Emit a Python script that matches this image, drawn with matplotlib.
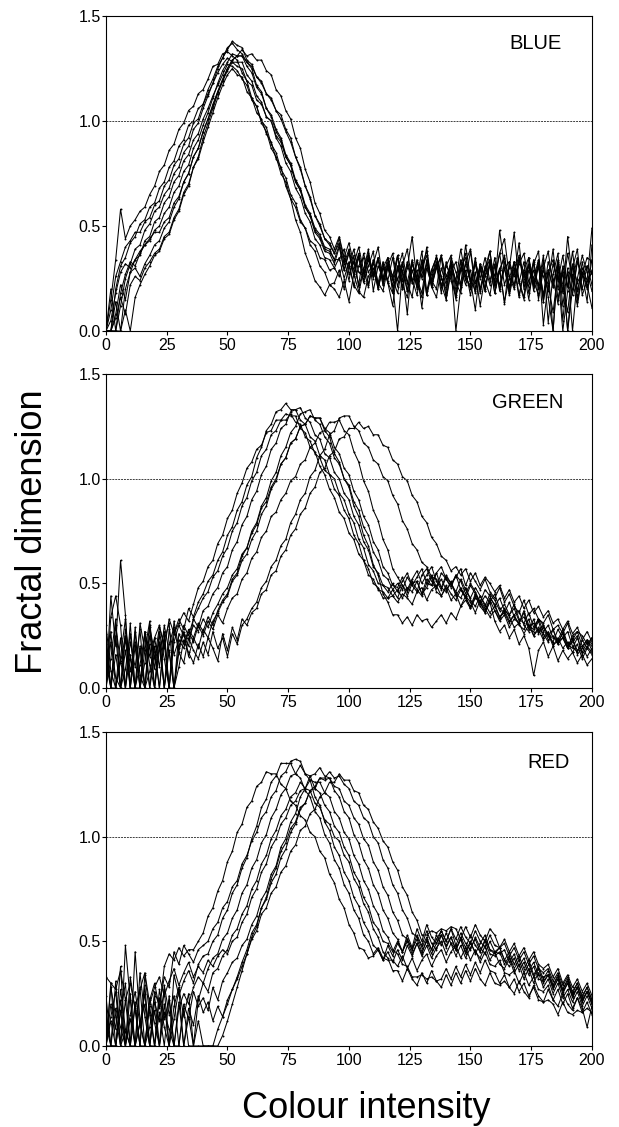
import numpy as np
import matplotlib
matplotlib.use("Agg")
import matplotlib.pyplot as plt
from matplotlib.ticker import FormatStrFormatter

plt.rcParams['font.family'] = ['Liberation Sans', 'DejaVu Sans']

# colour intensity levels (every second level)
intensity = np.arange(0, 201, 2)

# fractal dimension x100, sampled at every second intensity level from 0
blue_01 = [
    0, 15, 34, 58, 44, 50, 53, 57, 59, 65,
    69, 76, 79, 86, 89, 96, 99, 105, 107, 113,
    115, 120, 126, 127, 132, 133, 131, 129, 123,
    119, 111, 107, 99, 95, 87, 83, 75, 71, 63,
    59, 52, 49, 43, 41, 35, 34, 29, 30, 26,
    34, 24, 36, 21, 29, 39, 19, 31, 25, 35,
    18, 29, 37, 23, 16, 33, 26, 40, 21, 30,
    36, 15, 28, 33, 22, 41, 25, 19, 32, 26,
    38, 22, 30, 13, 33, 26, 42, 20, 31, 24,
    17, 34, 4, 27, 37, 12, 30, 0, 25, 36,
    28, 19]
blue_02 = [
    0, 0, 20, 31, 35, 42, 45, 51, 53, 59,
    61, 68, 71, 78, 81, 88, 91, 98, 100, 106,
    108, 115, 120, 126, 130, 135, 137, 134, 132,
    128, 125, 117, 114, 106, 103, 96, 92, 84, 80,
    72, 68, 60, 56, 49, 46, 40, 39, 34, 34,
    39, 27, 33, 22, 37, 28, 32, 40, 24, 31,
    21, 35, 28, 8, 33, 25, 38, 19, 29, 35,
    26, 17, 35, 28, 21, 33, 39, 23, 30, 19,
    32, 24, 37, 44, 26, 20, 34, 28, 15, 32,
    38, 14, 29, 0, 33, 22, 9, 30, 39, 17,
    24, 28]
blue_03 = [
    0, 10, 26, 33, 40, 43, 47, 47, 52, 54,
    60, 62, 69, 72, 79, 82, 89, 92, 99, 101,
    108, 113, 118, 123, 127, 130, 128, 126,
    125, 119, 117, 110, 108, 102, 100, 93, 90, 83,
    79, 71, 67, 59, 55, 47, 44, 38, 37, 32,
    40, 29, 37, 26, 35, 23, 31, 38, 21, 30,
    35, 25, 18, 31, 39, 23, 29, 11, 33, 24,
    20, 36, 26, 32, 16, 29, 37, 23, 33, 19,
    30, 38, 21, 29, 35, 17, 28, 36, 22, 32,
    25, 34, 3, 23, 39, 15, 28, 0, 20, 33,
    27, 14, 41]
blue_04 = [
    0, 0, 0, 12, 25, 32, 39, 41, 48, 51,
    57, 59, 65, 68, 75, 78, 85, 88, 96, 99,
    106, 112, 118, 125, 130, 134, 138, 136,
    135, 129, 127, 121, 119, 113, 111, 105, 103, 96,
    92, 83, 78, 69, 64, 55, 51, 44, 42, 37,
    42, 32, 39, 29, 37, 27, 35, 25, 34, 22,
    32, 24, 36, 20, 30, 45, 23, 33, 17, 29,
    35, 21, 31, 27, 15, 33, 24, 38, 20, 31,
    19, 34, 26, 37, 22, 30, 47, 23, 33, 18,
    29, 22, 36, 16, 0, 31, 19, 37, 24, 12,
    27, 35, 33]
blue_05 = [
    0, 0, 8, 22, 15, 28, 34, 36, 43, 45,
    52, 54, 61, 64, 71, 74, 81, 84, 91, 94,
    101, 106, 112, 117, 122, 127, 126, 124, 120,
    117, 110, 107, 100, 97, 89, 85, 77, 73, 65,
    61, 53, 49, 41, 38, 31, 28, 22, 20, 16,
    24, 14, 27, 19, 16, 26, 30, 20, 32, 23,
    18, 31, 22, 16, 29, 21, 34, 17, 27, 32,
    22, 15, 30, 0, 21, 29, 17, 28, 12, 26,
    31, 18, 29, 14, 25, 33, 17, 28, 21, 34,
    15, 29, 22, 9, 28, 0, 19, 32, 14, 27,
    22, 11]
blue_06 = [
    0, 20, 0, 18, 27, 33, 31, 37, 41, 43,
    48, 50, 56, 59, 66, 69, 76, 79, 87, 91,
    98, 104, 111, 118, 124, 128, 132, 131,
    131, 126, 123, 116, 113, 106, 102, 95, 91, 83,
    79, 71, 67, 59, 55, 48, 45, 39, 38, 34,
    41, 29, 38, 27, 36, 24, 34, 26, 35, 22,
    31, 37, 24, 33, 19, 32, 25, 18, 34, 24,
    36, 25, 20, 32, 24, 39, 26, 21, 35, 18,
    29, 34, 22, 48, 30, 19, 33, 24, 16, 35,
    23, 32, 17, 33, 25, 13, 31, 21, 38, 19,
    30, 24, 49]
blue_07 = [
    0, 0, 14, 0, 20, 28, 30, 26, 32, 36,
    41, 43, 49, 52, 59, 63, 71, 75, 83, 87,
    95, 101, 107, 114, 119, 124, 128, 128,
    128, 122, 119, 112, 109, 102, 100, 92, 88, 80,
    76, 68, 64, 56, 52, 44, 41, 35, 34, 30,
    35, 25, 33, 21, 31, 35, 22, 34, 20, 30,
    23, 12, 31, 20, 33, 25, 17, 30, 36, 21,
    16, 30, 22, 33, 23, 18, 32, 24, 10, 30,
    20, 33, 18, 29, 36, 21, 30, 16, 29, 35,
    19, 31, 14, 29, 21, 34, 5, 28, 17, 33,
    26, 31, 22]
blue_08 = [
    0, 0, 0, 0, 10, 0, 16, 22, 27, 31,
    36, 38, 44, 46, 53, 57, 65, 69, 78, 83,
    92, 99, 106, 113, 119, 125, 129, 131,
    131, 128, 126, 121, 118, 113, 110, 105, 101, 95,
    90, 83, 77, 69, 63, 55, 50, 44, 41, 37,
    44, 34, 31, 39, 28, 26, 36, 28, 23, 33,
    24, 35, 21, 32, 23, 34, 20, 31, 38, 23,
    33, 21, 31, 36, 19, 30, 35, 23, 32, 20,
    31, 22, 35, 19, 30, 33, 21, 32, 37, 23,
    33, 20, 30, 38, 21, 32, 18, 45, 24, 35,
    20, 31, 27]
blue_09 = [
    0, 0, 6, 16, 8, 22, 26, 24, 30, 33,
    37, 39, 45, 47, 54, 58, 66, 70, 78, 82,
    90, 97, 104, 111, 117, 122, 125, 122,
    121, 114, 111, 104, 101, 94, 90, 82, 78, 69,
    63, 53, 47, 37, 31, 24, 21, 17, 22, 23,
    29, 20, 31, 22, 18, 29, 21, 33, 23, 19,
    30, 22, 0, 29, 19, 33, 23, 16, 30, 22,
    31, 18, 33, 24, 17, 30, 22, 29, 18, 32,
    24, 17, 31, 22, 30, 18, 33, 23, 15, 29,
    22, 31, 17, 28, 34, 20, 30, 0, 27, 16,
    33, 21, 29]
blue_10 = [
    0, 5, 18, 28, 32, 30, 34, 38, 41, 44,
    47, 47, 52, 54, 61, 64, 71, 75, 83, 87,
    95, 101, 108, 114, 120, 125, 129, 131,
    134, 131, 132, 129, 129, 124, 122, 115, 112, 105,
    101, 92, 87, 77, 71, 61, 56, 48, 45, 39,
    45, 35, 42, 32, 40, 29, 37, 27, 35, 25,
    33, 26, 36, 24, 32, 23, 34, 25, 32, 21,
    31, 35, 24, 32, 22, 34, 26, 20, 33, 25,
    35, 24, 32, 20, 33, 26, 22, 35, 25, 31,
    21, 33, 26, 19, 32, 24, 36, 21, 31, 23,
    28, 20, 34]

green_01 = [
    18, 0, 30, 12, 25, 8, 22, 0, 27, 15,
    24, 30, 19, 33, 26, 31, 36, 32, 40, 48,
    51, 58, 61, 69, 73, 81, 85, 93, 98, 105,
    108, 114, 116, 122, 123, 128, 128, 131, 130, 130,
    124, 122, 115, 113, 106, 102, 95, 91, 84, 81,
    74, 71, 64, 61, 54, 52, 47, 46, 43, 47,
    43, 49, 44, 50, 51, 45, 48, 53, 46, 44,
    49, 45, 42, 47, 44, 38, 43, 41, 36, 42,
    37, 33, 38, 34, 29, 31, 36, 28, 27, 32,
    24, 27, 21, 22, 26, 19, 23, 18, 20, 15,
    19]
green_02 = [
    0, 34, 44, 30, 0, 22, 10, 28, 0, 25,
    14, 29, 21, 0, 26, 33, 28, 38, 34, 41,
    45, 51, 54, 61, 65, 73, 77, 85, 89, 97,
    101, 110, 115, 123, 126, 132, 133, 136, 133, 133,
    128, 126, 120, 118, 111, 109, 102, 100, 93, 90,
    83, 79, 71, 67, 59, 56, 50, 49, 46, 50,
    46, 51, 55, 49, 53, 57, 50, 49, 55, 58,
    52, 48, 54, 51, 45, 50, 46, 41, 47, 44,
    39, 43, 37, 35, 40, 33, 31, 36, 29, 33,
    27, 30, 24, 23, 28, 21, 19, 24, 17, 22,
    20]
green_03 = [
    26, 0, 0, 15, 33, 0, 20, 0, 12, 30,
    0, 18, 27, 0, 22, 30, 25, 20, 33, 29,
    37, 39, 45, 48, 55, 58, 66, 70, 78, 82,
    90, 94, 102, 106, 114, 117, 124, 126, 132, 133,
    134, 129, 127, 121, 119, 112, 110, 103, 100, 93,
    90, 82, 78, 70, 66, 58, 55, 49, 48, 44,
    47, 43, 48, 46, 51, 45, 52, 49, 55, 48,
    46, 51, 44, 48, 43, 39, 45, 41, 37, 43,
    40, 34, 36, 31, 35, 37, 30, 27, 33, 26,
    29, 23, 25, 21, 27, 20, 24, 16, 19, 23,
    18]
green_04 = [
    0, 22, 5, 0, 28, 14, 0, 31, 18, 0,
    24, 10, 30, 17, 0, 26, 21, 28, 24, 31,
    27, 34, 30, 37, 42, 45, 52, 55, 63, 67,
    75, 79, 87, 91, 99, 103, 111, 115, 122, 125,
    131, 132, 133, 128, 126, 120, 117, 110, 107, 100,
    97, 89, 85, 77, 73, 65, 61, 54, 52, 47,
    50, 47, 53, 49, 46, 54, 57, 51, 48, 55,
    52, 49, 54, 47, 43, 49, 45, 40, 44, 41,
    45, 38, 36, 41, 34, 31, 37, 30, 28, 33,
    30, 25, 22, 28, 24, 19, 25, 27, 20, 23,
    21]
green_05 = [
    12, 0, 25, 0, 18, 0, 29, 6, 0, 21,
    0, 27, 14, 0, 32, 19, 26, 23, 30, 27,
    33, 29, 36, 40, 45, 48, 54, 57, 64, 67,
    74, 78, 86, 89, 96, 100, 107, 110, 117, 119,
    125, 126, 130, 129, 129, 124, 122, 115, 112, 105,
    102, 94, 90, 82, 78, 70, 66, 58, 55, 49,
    48, 53, 47, 52, 56, 50, 54, 58, 51, 47,
    53, 50, 46, 52, 47, 43, 48, 44, 39, 45,
    42, 37, 40, 35, 38, 32, 34, 29, 31, 27,
    30, 25, 28, 22, 24, 27, 20, 17, 23, 19,
    24]
green_06 = [
    30, 8, 0, 24, 0, 16, 0, 0, 27, 11,
    0, 21, 0, 28, 16, 23, 19, 27, 22, 30,
    25, 32, 28, 35, 31, 38, 43, 45, 52, 55,
    62, 65, 72, 75, 82, 84, 90, 93, 99, 101,
    107, 109, 115, 117, 122, 123, 127, 127, 128, 123,
    121, 113, 108, 99, 94, 85, 80, 71, 66, 57,
    53, 49, 46, 51, 47, 44, 50, 54, 48, 52,
    47, 50, 45, 43, 48, 42, 39, 44, 40, 36,
    39, 34, 37, 32, 35, 30, 28, 33, 25, 29,
    26, 22, 28, 21, 24, 19, 22, 25, 16, 20,
    17]
green_07 = [
    0, 27, 0, 13, 0, 31, 0, 19, 0, 8,
    20, 0, 25, 0, 0, 17, 12, 24, 18, 14,
    22, 16, 27, 19, 24, 15, 26, 21, 30, 33,
    38, 41, 48, 51, 58, 61, 68, 71, 79, 83,
    90, 93, 101, 104, 111, 114, 121, 123, 129, 130,
    130, 125, 123, 117, 115, 109, 107, 101, 99, 92,
    88, 80, 76, 69, 66, 60, 58, 53, 52, 48,
    54, 50, 53, 57, 49, 55, 51, 47, 52, 46,
    43, 48, 41, 45, 39, 36, 42, 35, 38, 33,
    31, 35, 28, 30, 26, 31, 23, 27, 25, 21,
    24]
green_08 = [
    21, 0, 16, 0, 24, 0, 0, 11, 26, 0,
    15, 22, 0, 18, 0, 10, 23, 17, 12, 21,
    15, 24, 19, 13, 26, 18, 29, 23, 33, 30,
    36, 38, 45, 47, 54, 56, 63, 66, 73, 76,
    83, 86, 93, 96, 103, 105, 111, 113, 119, 120,
    124, 124, 127, 124, 125, 121, 121, 116, 115, 109,
    107, 101, 99, 92, 89, 82, 79, 72, 69, 63,
    61, 56, 58, 54, 57, 51, 55, 49, 53, 50,
    46, 49, 43, 47, 41, 44, 38, 42, 36, 39,
    34, 37, 31, 33, 28, 32, 26, 29, 23, 27,
    22]
green_09 = [
    0, 14, 33, 0, 9, 26, 0, 20, 0, 29,
    17, 0, 23, 31, 0, 20, 27, 15, 24, 19,
    28, 24, 32, 36, 41, 44, 51, 54, 61, 64,
    71, 75, 83, 87, 95, 99, 107, 110, 117, 119,
    125, 126, 130, 129, 129, 123, 120, 112, 108, 100,
    96, 87, 82, 73, 68, 59, 54, 45, 41, 35,
    35, 31, 34, 30, 35, 32, 33, 29, 32, 35,
    31, 36, 33, 39, 42, 38, 44, 39, 36, 41,
    32, 27, 30, 24, 28, 21, 25, 19, 6, 18,
    22, 15, 20, 13, 18, 14, 17, 12, 16, 11,
    14]
green_10 = [
    0, 44, 20, 61, 35, 0, 27, 0, 18, 32,
    9, 26, 0, 21, 29, 17, 30, 25, 33, 38,
    43, 46, 53, 56, 63, 67, 75, 79, 87, 91,
    99, 103, 111, 114, 121, 123, 128, 128, 131, 127,
    126, 120, 118, 112, 110, 104, 102, 95, 92, 85,
    81, 73, 69, 61, 57, 50, 48, 43, 43, 44,
    41, 45, 43, 40, 46, 48, 42, 47, 49, 44,
    48, 42, 45, 39, 44, 41, 36, 42, 38, 34,
    37, 32, 35, 29, 33, 31, 26, 30, 25, 28,
    23, 26, 20, 24, 19, 22, 17, 21, 14, 19,
    16]

red_01 = [
    0, 20, 8, 38, 0, 15, 26, 10, 0, 22,
    30, 18, 38, 44, 41, 47, 43, 46, 46, 50,
    54, 62, 66, 74, 79, 88, 93, 102, 106, 114,
    117, 124, 126, 131, 130, 130, 125, 123, 117, 115,
    110, 108, 102, 100, 93, 90, 82, 78, 70, 66,
    58, 54, 47, 46, 42, 43, 46, 41, 48, 43,
    49, 45, 51, 46, 53, 48, 55, 49, 46, 53,
    48, 52, 46, 51, 44, 49, 45, 42, 48, 41,
    45, 39, 37, 42, 35, 39, 32, 37, 30, 35,
    28, 32, 25, 30, 23, 27, 21, 26, 19, 24,
    18]
red_02 = [
    10, 0, 31, 0, 48, 22, 0, 35, 14, 0,
    26, 19, 33, 28, 45, 39, 48, 44, 40, 46,
    48, 50, 56, 59, 66, 69, 76, 79, 87, 91,
    98, 102, 109, 112, 119, 122, 129, 131, 136, 137,
    136, 130, 127, 119, 115, 107, 103, 95, 91, 83,
    79, 71, 67, 59, 55, 48, 46, 41, 45, 40,
    46, 41, 48, 43, 49, 44, 51, 46, 53, 48,
    54, 49, 46, 52, 47, 53, 48, 45, 51, 46,
    44, 47, 41, 38, 42, 36, 40, 34, 38, 32,
    31, 34, 27, 32, 25, 30, 23, 28, 21, 26,
    20]
red_03 = [
    0, 0, 18, 9, 0, 33, 17, 0, 29, 0,
    21, 12, 27, 0, 34, 24, 31, 36, 30, 39,
    43, 44, 50, 53, 61, 65, 73, 77, 85, 90,
    99, 105, 114, 118, 126, 129, 135, 135, 135, 130,
    128, 122, 119, 112, 109, 101, 97, 89, 85, 77,
    73, 65, 61, 53, 50, 44, 47, 42, 41, 41,
    38, 43, 37, 42, 36, 41, 44, 38, 43, 46,
    40, 45, 48, 42, 47, 41, 46, 40, 45, 39,
    38, 41, 35, 34, 36, 30, 35, 29, 33, 27,
    26, 29, 22, 27, 20, 25, 18, 23, 16, 21,
    15]
red_04 = [
    24, 0, 0, 16, 30, 0, 45, 12, 0, 19,
    0, 27, 13, 22, 0, 18, 25, 20, 28, 33,
    30, 37, 42, 44, 51, 54, 61, 65, 73, 77,
    85, 89, 97, 101, 109, 113, 120, 123, 129, 130,
    134, 130, 129, 123, 121, 115, 112, 105, 102, 95,
    91, 83, 79, 71, 67, 59, 56, 50, 49, 45,
    50, 45, 53, 47, 56, 50, 58, 52, 49, 55,
    50, 56, 48, 54, 49, 46, 52, 47, 44, 50,
    45, 44, 46, 40, 44, 38, 42, 36, 40, 34,
    33, 34, 29, 34, 27, 32, 25, 30, 23, 28,
    22]
red_05 = [
    0, 12, 0, 27, 8, 0, 21, 0, 34, 15,
    0, 23, 9, 0, 19, 28, 14, 25, 0, 22,
    30, 26, 35, 37, 43, 46, 53, 56, 63, 67,
    75, 79, 87, 91, 99, 103, 110, 113, 119, 121,
    126, 123, 122, 116, 114, 108, 106, 100, 98, 91,
    88, 80, 76, 68, 64, 56, 52, 45, 42, 36,
    36, 31, 37, 32, 29, 35, 30, 36, 31, 28,
    34, 29, 35, 30, 36, 31, 37, 32, 29, 35,
    30, 29, 31, 28, 25, 31, 26, 23, 29, 24,
    21, 27, 22, 19, 25, 20, 17, 23, 18, 9,
    19]
red_06 = [
    0, 28, 14, 0, 22, 0, 0, 11, 25, 0,
    17, 0, 29, 15, 24, 0, 20, 13, 26, 19,
    23, 17, 28, 22, 31, 35, 40, 42, 48, 51,
    58, 62, 70, 74, 82, 86, 95, 99, 107, 111,
    119, 123, 129, 130, 133, 129, 128, 122, 119, 112,
    109, 101, 97, 89, 85, 77, 73, 65, 61, 54,
    51, 45, 50, 44, 49, 43, 48, 42, 47, 50,
    44, 49, 43, 48, 42, 47, 51, 45, 50, 44,
    43, 45, 39, 43, 37, 41, 35, 39, 33, 37,
    30, 34, 28, 32, 26, 30, 24, 28, 21, 26,
    20]
red_07 = [
    17, 0, 0, 22, 0, 13, 0, 28, 0, 9,
    24, 0, 16, 8, 0, 21, 0, 14, 0, 0,
    0, 0, 0, 8, 14, 20, 27, 33, 40, 46,
    54, 58, 66, 70, 78, 82, 90, 94, 102, 106,
    113, 116, 122, 124, 128, 127, 128, 124, 123, 117,
    115, 109, 106, 99, 96, 88, 84, 76, 72, 64,
    60, 53, 51, 46, 51, 45, 50, 44, 49, 53,
    47, 52, 46, 51, 45, 50, 44, 49, 53, 46,
    45, 47, 41, 45, 39, 43, 37, 41, 34, 38,
    32, 36, 29, 33, 27, 31, 24, 28, 22, 26,
    21]
red_08 = [
    0, 14, 26, 0, 7, 0, 19, 0, 0, 23,
    11, 0, 20, 0, 13, 27, 0, 18, 10, 24,
    16, 21, 12, 19, 14, 22, 27, 32, 38, 44,
    51, 55, 63, 66, 73, 76, 83, 86, 93, 96,
    103, 105, 111, 113, 119, 121, 126, 126, 130, 127,
    127, 122, 121, 115, 113, 107, 104, 98, 95, 88,
    84, 76, 72, 64, 60, 53, 53, 55, 54, 56,
    55, 57, 56, 51, 57, 52, 58, 53, 50, 56,
    53, 47, 51, 45, 49, 43, 47, 41, 45, 39,
    37, 39, 33, 37, 30, 34, 28, 32, 26, 30,
    24]
red_09 = [
    0, 30, 0, 17, 0, 25, 0, 11, 20, 0,
    0, 16, 0, 24, 0, 0, 18, 0, 0, 12,
    0, 0, 0, 0, 5, 12, 20, 28, 36, 44,
    52, 57, 66, 71, 80, 85, 93, 97, 104, 107,
    114, 116, 122, 123, 128, 128, 131, 128, 129, 125,
    123, 117, 115, 109, 107, 100, 97, 89, 85, 77,
    73, 65, 61, 54, 52, 47, 52, 46, 51, 55,
    50, 56, 51, 57, 52, 49, 55, 50, 47, 53,
    48, 47, 49, 43, 47, 41, 45, 39, 43, 37,
    35, 37, 31, 35, 29, 33, 26, 30, 24, 28,
    22]
red_10 = [
    33, 30, 27, 36, 22, 30, 18, 27, 35, 20,
    28, 33, 24, 31, 37, 29, 35, 40, 33, 38,
    35, 41, 38, 43, 46, 44, 50, 52, 59, 63,
    71, 75, 83, 87, 95, 99, 106, 109, 115, 117,
    122, 123, 127, 126, 126, 121, 119, 112, 109, 102,
    99, 91, 87, 79, 75, 67, 63, 55, 52, 46,
    44, 39, 38, 33, 33, 34, 32, 33, 31, 32,
    37, 32, 38, 33, 39, 34, 40, 35, 41, 36,
    35, 30, 34, 28, 32, 26, 30, 24, 28, 22,
    21, 22, 20, 15, 21, 16, 15, 17, 16, 18,
    16]

blue_curves = [blue_01, blue_02, blue_03, blue_04, blue_05,
               blue_06, blue_07, blue_08, blue_09, blue_10]
green_curves = [green_01, green_02, green_03, green_04, green_05,
                green_06, green_07, green_08, green_09, green_10]
red_curves = [red_01, red_02, red_03, red_04, red_05,
              red_06, red_07, red_08, red_09, red_10]

channel_names = ["BLUE", "GREEN", "RED"]
x_ticks = [0, 25, 50, 75, 100, 125, 150, 175, 200]
y_ticks = [0.0, 0.5, 1.0, 1.5]

fig = plt.figure(figsize=(6.19, 11.27), dpi=100)

# [left, bottom, width, height] for each panel, and where its name sits
rects = [[0.1712, 0.7063, 0.7851, 0.2795],
         [0.1712, 0.3895, 0.7851, 0.2786],
         [0.1712, 0.0719, 0.7851, 0.2786]]
name_pos = [(0.883, 0.914), (0.868, 0.909), (0.911, 0.903)]

for rect, name, curves, npos in zip(rects, channel_names,
                                   [blue_curves, green_curves, red_curves], name_pos):
    ax = fig.add_axes(rect)
    for vals in curves:
        y = np.array(vals) / 100.0
        x = intensity[:len(y)]
        ax.plot(x, y, color='black', lw=0.75, marker='o', ms=1.4, mew=0)
    ax.axhline(1.0, color='0.25', lw=0.7, ls=(0, (2.0, 1.0)))
    ax.set_xlim(0, 200)
    ax.set_ylim(0, 1.5)
    ax.set_xticks(x_ticks)
    ax.set_yticks(y_ticks)
    ax.yaxis.set_major_formatter(FormatStrFormatter('%.1f'))
    ax.tick_params(axis='both', direction='out', length=3, width=0.8,
                   labelsize=11.5, color='black')
    ax.tick_params(axis='y', pad=0.5)
    ax.tick_params(axis='x', pad=2)
    for sp in ax.spines.values():
        sp.set_linewidth(0.8)
    ax.text(npos[0], npos[1], name, transform=ax.transAxes, ha='center',
            va='center', fontsize=14.5)

fig.text(0.052, 0.528, "Fractal dimension", rotation=90, ha='center',
         va='center', fontsize=26)
fig.text(0.591, 0.008, "Colour intensity", ha='center', va='baseline',
         fontsize=26)

fig.savefig("out.png", dpi=100)
